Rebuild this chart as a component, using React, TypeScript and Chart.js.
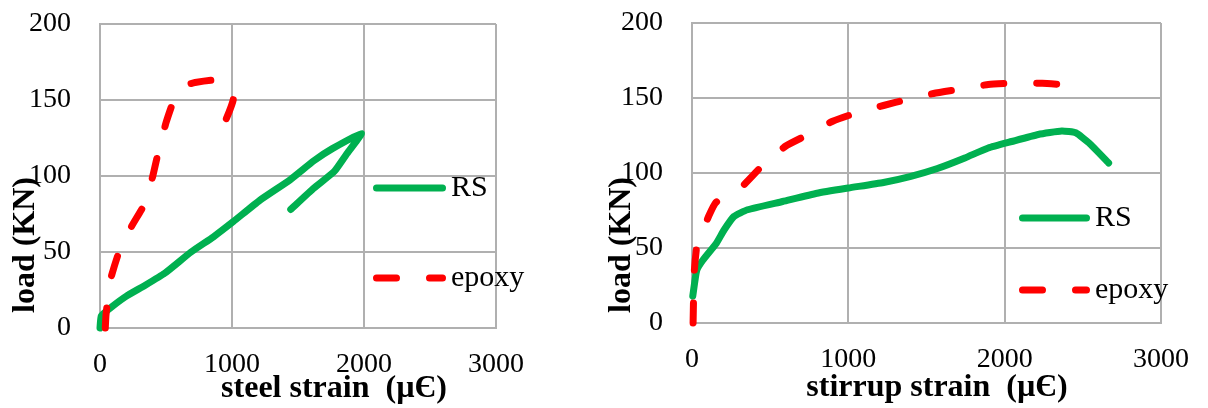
import React, { useEffect, useRef } from 'react';
import { Chart, registerables } from 'chart.js';

Chart.register(...registerables);

// ---------- data ----------
const xTickValues = [0, 1000, 2000, 3000];
const yTickValues = [0, 50, 100, 150, 200];
const seriesNames = ['RS', 'epoxy'];

// left chart: steel strain
const steelStrainRS = [0, 10, 90, 200, 340, 490, 690, 860, 1010, 1210, 1440, 1620, 1760, 1980, 1865, 1775, 1620, 1445];
const steelLoadRS = [0, 8, 14, 21, 28, 36, 50, 60, 70, 84, 97.5, 110, 118, 128, 114, 103, 92, 78];
const steelStrainEpoxy = [40, 45, 55, 80, 140, 240, 340, 400, 445, 500, 560, 630, 720, 900, 1010, 935];
const steelLoadEpoxy = [0, 8, 16, 32, 49, 67, 82, 100, 117, 135, 150, 159, 161.5, 163, 151, 133];

// right chart: stirrup strain
const stirrupStrainRS = [5, 30, 70, 155, 205, 268, 355, 580, 800, 1000, 1225, 1400, 1570, 1745, 1895, 2045, 2215, 2365, 2455, 2540, 2665];
const stirrupLoadRS = [18, 35, 42, 53, 62, 71, 75.5, 81, 86.5, 90, 93.7, 97.8, 103, 110, 116.7, 121, 125.7, 128, 126.8, 120, 106.7];
const stirrupStrainEpoxy = [7, 10, 15, 32, 70, 110, 150, 230, 330, 455, 600, 730, 900, 1050, 1225, 1375, 1545, 1720, 1895, 2070, 2240, 2415];
const stirrupLoadEpoxy = [0, 17, 35, 52, 62, 72, 80, 87, 92, 105.5, 118, 125, 134.5, 140, 145, 149, 153, 156, 159, 160, 159.8, 158.7];

// ---------- styles ----------
const GREEN = '#00B050';
const RED = '#FF0000';
const GRID = '#b0b0b0';
const FONT = '"Liberation Serif", "Times New Roman", serif';

const toPoints = (xs: number[], ys: number[]) => xs.map((x, i) => ({ x, y: ys[i] }));

const textPlugin = {
  id: 'excelText',
  afterDraw(chart: any, _args: any, opts: any) {
    const ctx = chart.ctx as CanvasRenderingContext2D;
    ctx.save();
    ctx.fillStyle = '#000';
    // x title
    ctx.font = `bold 32px ${FONT}`;
    ctx.textAlign = 'center';
    ctx.textBaseline = 'middle';
    ctx.fillText(opts.xTitle, opts.xTitleX, opts.xTitleY);
    // y title
    ctx.save();
    ctx.translate(opts.yTitleX, opts.yTitleY);
    ctx.rotate(-Math.PI / 2);
    ctx.textAlign = 'left';
    ctx.textBaseline = 'alphabetic';
    ctx.fillText(opts.yTitle, 0, 0);
    ctx.restore();
    // legend
    chart.data.datasets.forEach((ds: any, i: number) => {
      const y = opts.legendY[i];
      const lw = ds.borderWidth;
      ctx.save();
      ctx.strokeStyle = ds.borderColor;
      ctx.lineWidth = lw;
      ctx.lineCap = 'round';
      ctx.setLineDash(ds.borderDash || []);
      ctx.beginPath();
      ctx.moveTo(opts.legendX1 + lw / 2, y);
      ctx.lineTo(opts.legendX2 - lw / 2, y);
      ctx.stroke();
      ctx.restore();
      ctx.font = `30px ${FONT}`;
      ctx.textAlign = 'left';
      ctx.textBaseline = 'middle';
      ctx.fillText(ds.label, opts.legendTextX, y);
    });
    ctx.restore();
  },
};

const zeroPadding = (s: any) => {
  s.paddingTop = 0;
  s.paddingBottom = 0;
  s.paddingLeft = 0;
  s.paddingRight = 0;
};

function makeConfig(
  rsX: number[], rsY: number[], epX: number[], epY: number[],
  layout: { yWidth: number; xHeight: number; top: number; right: number },
  text: any
): any {
  return {
    type: 'scatter',
    data: {
      datasets: [
        {
          label: seriesNames[0],
          data: toPoints(rsX, rsY),
          showLine: true,
          borderColor: GREEN,
          backgroundColor: GREEN,
          borderWidth: 7,
          pointRadius: 0,
          tension: 0.15,
          borderCapStyle: 'round',
          borderJoinStyle: 'round',
          order: 1,
          clip: 5,
        },
        {
          label: seriesNames[1],
          data: toPoints(epX, epY),
          showLine: true,
          borderColor: RED,
          backgroundColor: RED,
          borderWidth: 7,
          borderDash: [20, 33],
          pointRadius: 0,
          tension: 0.15,
          borderCapStyle: 'round',
          borderJoinStyle: 'round',
          order: 0,
          clip: 5,
        },
      ],
    },
    options: {
      responsive: false,
      animation: false,
      layout: { autoPadding: false, padding: { left: 0, top: layout.top, right: layout.right, bottom: 0 } },
      plugins: {
        legend: { display: false },
        tooltip: { enabled: false },
        excelText: text,
      },
      scales: {
        x: {
          type: 'linear',
          min: 0,
          max: 3000,
          afterBuildTicks: (s: any) => { s.ticks = xTickValues.map((v) => ({ value: v })); },
          afterFit: (s: any) => { s.height = layout.xHeight; zeroPadding(s); },
          ticks: {
            color: '#000',
            font: { family: FONT, size: 28 },
            padding: 20,
            maxRotation: 0,
            callback: (v: any) => String(v),
          },
          grid: { color: GRID, lineWidth: 2, drawTicks: false },
          border: { color: GRID, width: 2 },
        },
        y: {
          type: 'linear',
          min: 0,
          max: 200,
          afterBuildTicks: (s: any) => { s.ticks = yTickValues.map((v) => ({ value: v })); },
          afterFit: (s: any) => { s.width = layout.yWidth; zeroPadding(s); },
          ticks: {
            color: '#000',
            font: { family: FONT, size: 28 },
            padding: 29,
            callback: (v: any) => String(v),
          },
          grid: { color: GRID, lineWidth: 2, drawTicks: false },
          border: { color: GRID, width: 2 },
        },
      },
    },
    plugins: [textPlugin],
  };
}

function ChartCanvas({ config, width, height }: { config: any; width: number; height: number }) {
  const ref = useRef<HTMLCanvasElement | null>(null);
  useEffect(() => {
    if (!ref.current) return;
    const chart = new Chart(ref.current, config);
    return () => chart.destroy();
  }, [config]);
  return <canvas ref={ref} width={width} height={height} style={{ display: 'block', width, height }} />;
}

const leftConfig = makeConfig(
  steelStrainRS, steelLoadRS, steelStrainEpoxy, steelLoadEpoxy,
  { yWidth: 100, xHeight: 80, top: 24, right: 104 },
  {
    xTitle: 'steel strain  (µЄ)', xTitleX: 334, xTitleY: 389,
    yTitle: 'load (KN)', yTitleX: 34, yTitleY: 313,
    legendX1: 373, legendX2: 446, legendTextX: 451, legendY: [188, 278],
  }
);

const rightConfig = makeConfig(
  stirrupStrainRS, stirrupLoadRS, stirrupStrainEpoxy, stirrupLoadEpoxy,
  { yWidth: 92, xHeight: 85, top: 23, right: 47 },
  {
    xTitle: 'stirrup strain  (µЄ)', xTitleX: 337, xTitleY: 388,
    yTitle: 'load (KN)', yTitleX: 30, yTitleY: 313,
    legendX1: 419, legendX2: 490, legendTextX: 495, legendY: [218, 290],
  }
);

export default function App() {
  return (
    <div style={{ position: 'absolute', left: 0, top: 0, width: 1208, height: 408, background: '#fff', overflow: 'hidden' }}>
      <div style={{ position: 'absolute', left: 0, top: 0 }}>
        <ChartCanvas config={leftConfig} width={600} height={408} />
      </div>
      <div style={{ position: 'absolute', left: 600, top: 0 }}>
        <ChartCanvas config={rightConfig} width={608} height={408} />
      </div>
    </div>
  );
}
